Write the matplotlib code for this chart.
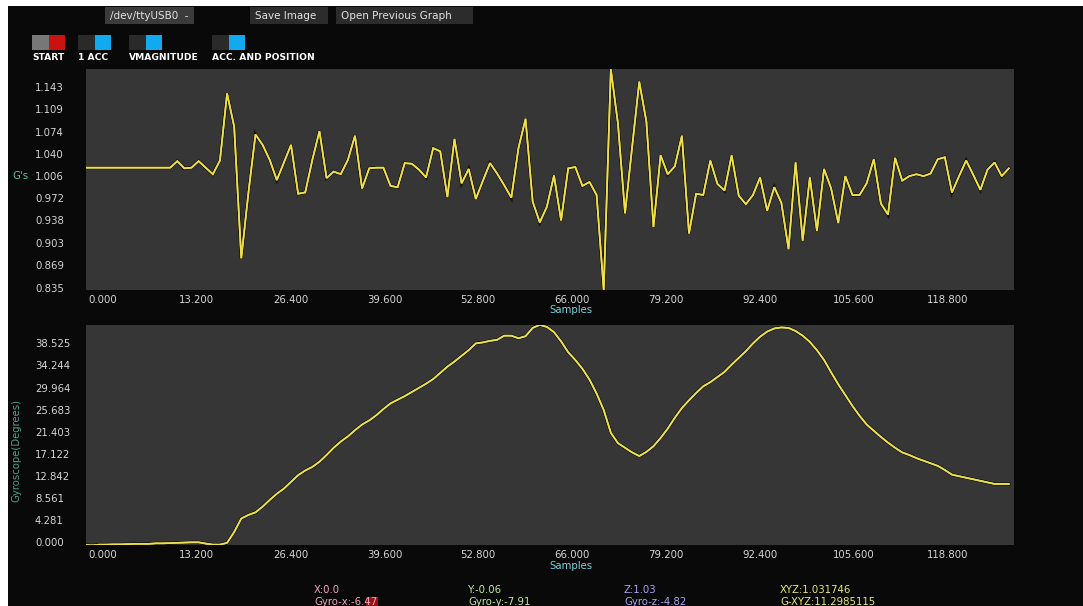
import numpy as np
import matplotlib
matplotlib.use("Agg")
import matplotlib.pyplot as plt
from matplotlib.patches import Rectangle
import matplotlib.patheffects as pe

# ---- data -------------------------------------------------------------
# accelerometer magnitude (G's), one value per sample
acc_g = [
    1.019, 1.019, 1.019, 1.019, 1.019, 1.019, 1.019, 1.019, 1.019, 1.019,
    1.019, 1.019, 1.019, 1.029, 1.018, 1.019, 1.029, 1.019, 1.009, 1.030,
    1.133, 1.082, 0.880, 0.980, 1.070, 1.054, 1.031, 1.000, 1.027, 1.054,
    0.979, 0.981, 1.031, 1.075, 1.003, 1.013, 1.009, 1.031, 1.068, 0.987,
    1.018, 1.019, 1.019, 0.991, 0.989, 1.026, 1.025, 1.016, 1.004, 1.049,
    1.044, 0.974, 1.063, 0.995, 1.017, 0.971, 0.999, 1.026, 1.010, 0.992,
    0.973, 1.049, 1.094, 0.967, 0.935, 0.959, 1.007, 0.938, 1.018, 1.020,
    0.991, 0.997, 0.977, 0.831, 1.170, 1.087, 0.949, 1.051, 1.151, 1.090,
    0.928, 1.038, 1.009, 1.021, 1.068, 0.918, 0.979, 0.977, 1.030, 0.994,
    0.984, 1.038, 0.976, 0.963, 0.977, 1.004, 0.953, 0.989, 0.965, 0.894,
    1.027, 0.907, 1.004, 0.922, 1.017, 0.987, 0.934, 1.006, 0.977, 0.977,
    0.995, 1.032, 0.964, 0.947, 1.034, 0.999, 1.006, 1.009, 1.006, 1.010,
    1.032, 1.035, 0.981, 1.006, 1.030, 1.008, 0.985, 1.016, 1.027, 1.006,
    1.018,
]

# gyroscope angle (degrees), one value per sample
gyro_deg = [
    -0.50, -0.60, -0.45, -0.45, -0.40, -0.40, -0.35, -0.30, -0.30, -0.30,
    -0.20, -0.20, -0.15, -0.10, -0.05, 0.00, 0.00, -0.25, -0.45, -0.45,
    -0.10, 2.00, 4.60, 5.30, 5.80, 6.90, 8.20, 9.40, 10.40, 11.70,
    13.00, 13.90, 14.60, 15.60, 16.90, 18.30, 19.50, 20.50, 21.70, 22.80,
    23.60, 24.60, 25.80, 26.90, 27.60, 28.30, 29.10, 29.90, 30.70, 31.60,
    32.80, 34.00, 35.00, 36.10, 37.20, 38.50, 38.70, 39.00, 39.20, 40.00,
    40.00, 39.50, 39.90, 41.50, 42.10, 41.70, 40.70, 38.90, 36.80, 35.30,
    33.60, 31.50, 28.80, 25.60, 21.20, 19.20, 18.30, 17.40, 16.70, 17.50,
    18.60, 20.20, 22.00, 24.10, 26.00, 27.50, 28.90, 30.20, 31.00, 32.00,
    33.00, 34.40, 35.70, 37.00, 38.50, 39.80, 40.80, 41.40, 41.60, 41.50,
    40.90, 40.00, 38.80, 37.20, 35.30, 32.90, 30.60, 28.50, 26.40, 24.50,
    22.80, 21.60, 20.40, 19.30, 18.30, 17.40, 16.90, 16.30, 15.80, 15.30,
    14.80, 14.00, 13.10, 12.80, 12.50, 12.20, 11.90, 11.60, 11.30, 11.30,
    11.2985115,
]

x_tick_values = [0.0, 13.2, 26.4, 39.6, 52.8, 66.0, 79.2, 92.4, 105.6, 118.8]
acc_tick_values = [0.835, 0.869, 0.903, 0.938, 0.972, 1.006, 1.040, 1.074, 1.109, 1.143]
gyro_tick_values = [0.000, 4.281, 8.561, 12.842, 17.122, 21.403, 25.683, 29.964, 34.244, 38.525]

buttons = ["START", "1 ACC", "VMAGNITUDE", "ACC. AND POSITION"]
status_top = ["X:0.0", "Y:-0.06", "Z:1.03", "XYZ:1.031746"]
status_bottom = ["Gyro-x:-6.47", "Gyro-y:-7.91", "Gyro-z:-4.82", "G-XYZ:11.2985115"]

# ---- figure ------------------------------------------------------------
W, H = 1083, 606
BG = "#090909"
PLOT_BG = "#363636"
LINE = "#f0df4a"
TICK = "#d6d6d6"
FS = 7.3

fig = plt.figure(figsize=(W / 100, H / 100), dpi=100, facecolor=BG)


def box(x, y, w, h, color, z=0):
    fig.add_artist(Rectangle((x / W, 1 - (y + h) / H), w / W, h / H,
                             transform=fig.transFigure, facecolor=color,
                             edgecolor="none", zorder=z))


def label(x, y, s, color, size=FS, weight="normal", ha="left", **kw):
    fig.text(x / W, 1 - y / H, s, color=color, fontsize=size,
             fontweight=weight, ha=ha, va="center", **kw)


def axes_px(left, top, right, bottom):
    return fig.add_axes([left / W, 1 - bottom / H, (right - left) / W,
                         (bottom - top) / H])


# sample positions along the "Samples" axis
samples = np.arange(len(acc_g)) - 2.55
XLIM = (-2.40, 128.18)


def style(ax, yticks, ylim):
    ax.set_facecolor(PLOT_BG)
    for s in ax.spines.values():
        s.set_visible(False)
    ax.set_xlim(*XLIM)
    ax.set_ylim(*ylim)
    ax.set_xticks(x_tick_values)
    ax.set_xticklabels([f"{v:.3f}" for v in x_tick_values])
    ax.set_yticks(yticks)
    ax.set_yticklabels([f"{v:.3f}" for v in yticks])
    ax.tick_params(axis="x", length=0, pad=3.8, colors=TICK, labelsize=FS)
    ax.tick_params(axis="y", length=0, pad=36.7, colors=TICK, labelsize=FS)
    for t in ax.get_yticklabels():
        t.set_horizontalalignment("left")


shadow = [pe.withStroke(linewidth=2.4, foreground="#15150a"), pe.Normal()]

ax1 = axes_px(86, 69, 1014, 290)
style(ax1, acc_tick_values, (0.8312, 1.1705))
ax1.plot(samples, acc_g, color=LINE, lw=1.2, path_effects=shadow,
         solid_joinstyle="miter")

ax2 = axes_px(86, 325, 1014, 545)
style(ax2, gyro_tick_values, (-0.52, 42.07))
ax2.plot(samples, gyro_deg, color="#ecdf50", lw=1.2, path_effects=shadow)

# axis titles
label(20, 176, "G's", "#66bfa6", ha="center")
label(16, 450, "Gyroscope(Degrees)", "#4c9f8e", ha="center", rotation=90)
label(571, 310, "Samples", "#7fd2de", ha="center")
label(571, 566, "Samples", "#7fd2de", ha="center")

# toolbar
box(0, 0, W, 6, "white", z=5)
box(0, 0, 8, H, "white", z=5)
box(105, 7, 89, 17, "#3b3b3b")
label(110, 16, "/dev/ttyUSB0  -", "#e2e2e2", size=7.5)
box(250, 7, 78, 17, "#2c2c2c")
label(255, 16, "Save Image", "#e2e2e2", size=7.5)
box(336, 7, 137, 17, "#2c2c2c")
label(341, 16, "Open Previous Graph", "#e2e2e2", size=7.5)

toggle_x = [32, 78, 129, 212]
toggle_colors = [("#777777", "#cc1111"), ("#2a2a2a", "#11aaee"),
                 ("#2a2a2a", "#11aaee"), ("#2a2a2a", "#11aaee")]
for tx, (c0, c1), name in zip(toggle_x, toggle_colors, buttons):
    box(tx, 35, 16.5, 15, c0)
    box(tx + 16.5, 35, 16.5, 15, c1)
    label(tx, 58, name, "white", size=6.6, weight="bold")

# status read-outs
status_x = [314, 468, 624, 780]
status_colors = ["#f0a6bf", "#c6eaa2", "#aba4f2", "#e9e872"]
box(366, 597, 12, 9, "#9a1010")
for sx, col, top, bot in zip(status_x, status_colors, status_top, status_bottom):
    label(sx, 590, top, col)
    label(sx, 602, bot, col)

fig.savefig("out.png", dpi=100, facecolor=BG)
